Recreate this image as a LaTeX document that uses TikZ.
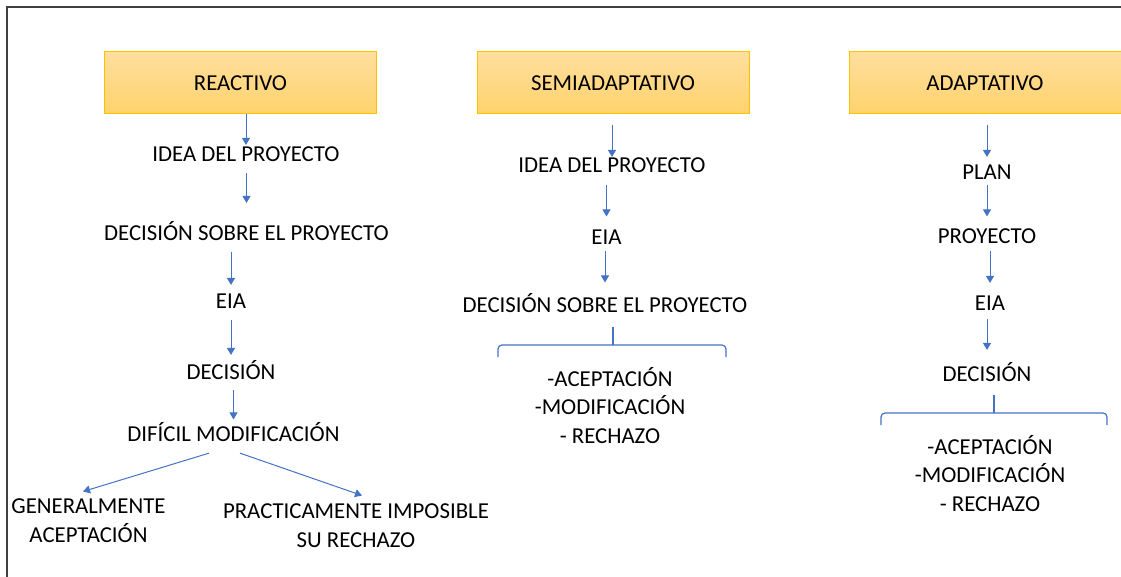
\documentclass[tikz,border=0pt]{standalone}
\usepackage{fontspec}
\setmainfont{Carlito}
\usetikzlibrary{arrows.meta}
\definecolor{azul}{RGB}{68,114,196}
\definecolor{naranjaclaro}{RGB}{255,223,158}
\definecolor{naranjaoscuro}{RGB}{255,210,108}
\definecolor{dorado}{RGB}{255,192,0}
\definecolor{marco}{RGB}{64,64,64}
\begin{document}
\begin{tikzpicture}[x=1pt, y=-1pt,
					caja/.style={rectangle, draw=dorado, line width=1pt, top color=naranjaclaro, bottom color=naranjaoscuro, minimum width=272pt, minimum height=62pt, inner sep=0pt, text height=14.7pt, text depth=0pt},
					texto/.style={inner sep=0pt, text height=14.7pt, text depth=0pt},
					lista/.style={inner sep=0pt, align=center, anchor=base},
					flecha/.style={draw=azul, line width=1pt, -{Triangle[width=8pt,length=7pt]}},
					llave/.style={draw=azul, line width=1.2pt, rounded corners=4pt}]
\fontsize{22.8}{28.5}\selectfont
\useasboundingbox (0,0) rectangle (1121,577);
\draw[marco, line width=1.5pt] (7,577) -- (7,7) -- (1121,7);

\node[caja] (r0) at (240.5,83) {REACTIVO};
\node[texto] (r1) at (246,154.5) {IDEA DEL PROYECTO};
\node[texto] (r2) at (246.5,233.5) {DECISIÓN SOBRE EL PROYECTO};
\node[texto] (r3) at (231,301.5) {EIA};
\node[texto] (r4) at (231,372.5) {DECISIÓN};
\node[texto] (r5) at (233.5,434) {DIFÍCIL MODIFICACIÓN};
\node[lista] (g1) at (88.5,542) {GENERALMENTE\\ACEPTACIÓN};
\node[lista] (p1) at (356,547) {PRACTICAMENTE IMPOSIBLE\\SU RECHAZO};

\node[caja] (s0) at (613,83) {SEMIADAPTATIVO};
\node[texto] (s1) at (612,165.5) {IDEA DEL PROYECTO};
\node[texto] (s2) at (606.5,237) {EIA};
\node[texto] (s3) at (605,305) {DECISIÓN SOBRE EL PROYECTO};
\node[lista] (o2) at (610,443) {-ACEPTACIÓN\\-MODIFICACIÓN\\- RECHAZO};

\node[caja] (a0) at (985,83) {ADAPTATIVO};
\node[texto] (a1) at (987,172.5) {PLAN};
\node[texto] (a2) at (987,236) {PROYECTO};
\node[texto] (a3) at (990,303.5) {EIA};
\node[texto] (a4) at (987,374.5) {DECISIÓN};
\node[lista] (o3) at (990,511) {-ACEPTACIÓN\\-MODIFICACIÓN\\- RECHAZO};

\foreach \a/\b/\s/\e in {r0/r1/0/2, r1/r2/11/23, r2/r3/11/9, r3/r4/11/10, r4/r5/10/7,
                         s0/s1/11/1, s1/s2/12/13, s2/s3/6/15,
                         a0/a1/11/8, a1/a2/5/12, a2/a3/7/13, a3/a4/8/17}
    \draw[flecha, shorten <=\s pt, shorten >=\e pt] (\a.south -| \b) -- (\b.north);

\draw[flecha] ([shift={(-24.5,11.6)}]r5.south) -- ([shift={(-5.5,-7)}]g1.north);
\draw[flecha] ([shift={(6.5,11.6)}]r5.south) -- ([shift={(6,-8)}]p1.north);

\draw[llave] (613,327) -- (613,345);
\draw[llave] (498,357) -- (498,345) -- (726,345) -- (726,357);
\draw[llave] (994,395) -- (994,413);
\draw[llave] (881,425) -- (881,413) -- (1107,413) -- (1107,425);
\end{tikzpicture}
\end{document}
